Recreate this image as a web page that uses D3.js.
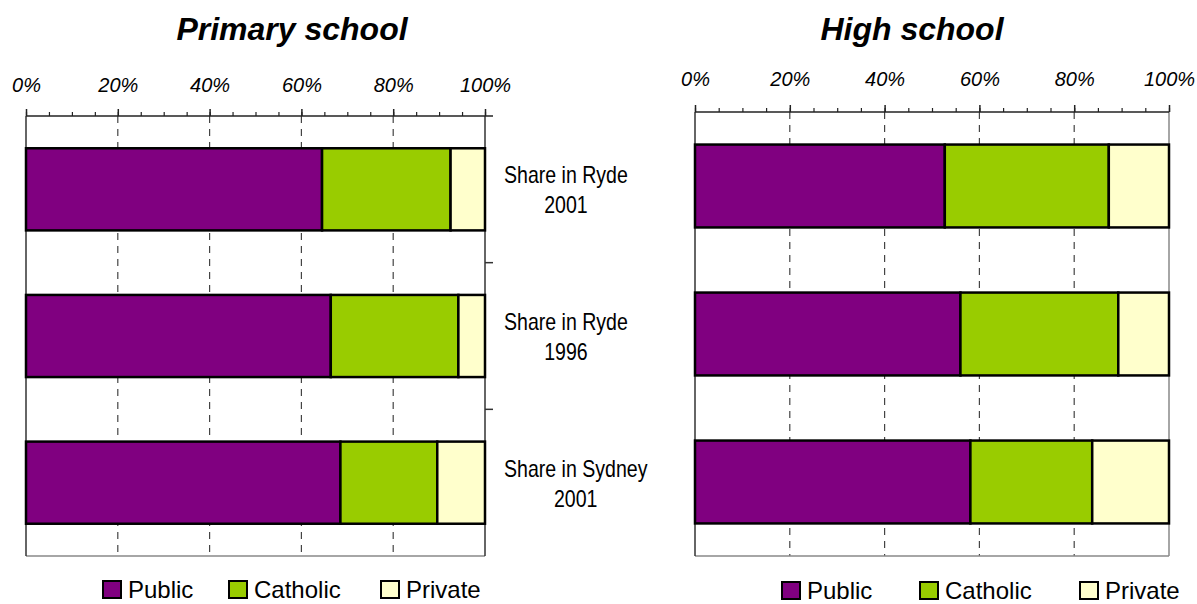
<!DOCTYPE html>
<html><head><meta charset="utf-8">
<script src="https://cdn.jsdelivr.net/npm/d3@7"></script>
<style>
body{margin:0;background:#fff;}
svg{display:block;}
</style></head>
<body><svg id="c" width="1197" height="604"></svg>
<script>
// ---- data ----
const categories = ["Share in Ryde|2001", "Share in Ryde|1996", "Share in Sydney|2001"];
const seriesNames = ["Public", "Catholic", "Private"];
const colors = ["#800080", "#99CC00", "#FFFFCC"];
const tickLabels = ["0%", "20%", "40%", "60%", "80%", "100%"];
const primaryPublic   = [64.5, 66.4, 68.5];
const primaryCatholic = [28.0, 27.8, 21.1];
const primaryPrivate  = [7.5, 5.8, 10.4];
const highPublic   = [52.7, 56.0, 58.1];
const highCatholic = [34.6, 33.3, 25.7];
const highPrivate  = [12.7, 10.7, 16.2];

const svg = d3.select("#c");

function panel(o) {
  const rows = categories.map((c, i) => ({cat: c, Public: o.pub[i], Catholic: o.cat[i], Private: o.pri[i]}));
  const stack = d3.stack().keys(seriesNames)(rows);
  const x = d3.scaleLinear().domain([0, 100]).range([o.x0, o.x1]);
  const p = 0.44;
  const y = d3.scaleBand().domain(categories).range([o.y0, o.y1]).paddingInner(p).paddingOuter(p / 2);
  const g = svg.append("g");

  // gridlines
  g.selectAll("line.grid").data([20, 40, 60, 80]).join("line")
    .attr("x1", d => x(d)).attr("x2", d => x(d))
    .attr("y1", o.y0).attr("y2", o.y1)
    .attr("stroke", "#444").attr("stroke-width", 1.2).attr("stroke-dasharray", "7,6");

  // frame
  g.append("line").attr("x1", o.x0).attr("x2", o.x1).attr("y1", o.y1).attr("y2", o.y1)
    .attr("stroke", "#888").attr("stroke-width", 1.5);
  g.append("line").attr("x1", o.x0).attr("x2", o.x0).attr("y1", o.y0).attr("y2", o.y1)
    .attr("stroke", "#333").attr("stroke-width", 1.5);
  g.append("line").attr("x1", o.x1).attr("x2", o.x1).attr("y1", o.y0).attr("y2", o.y1)
    .attr("stroke", o.rightAxis ? "#333" : "#888").attr("stroke-width", 1.5);

  // bars
  stack.forEach((s, si) => {
    g.selectAll(null).data(s).join("rect")
      .attr("x", d => x(d[0])).attr("width", d => x(d[1]) - x(d[0]))
      .attr("y", d => y(d.data.cat)).attr("height", y.bandwidth())
      .attr("fill", colors[si]).attr("stroke", "#000").attr("stroke-width", 2.5);
  });

  // top axis: minor ticks
  const minor = g.append("g").attr("transform", `translate(0,${o.y0})`)
    .call(d3.axisTop(x).tickValues(d3.range(0, 101, 5)).tickSize(4).tickFormat(""));
  minor.select(".domain").remove();
  minor.selectAll("line").attr("stroke", "#222").attr("stroke-width", 1.2);
  // major ticks with labels
  const major = g.append("g").attr("transform", `translate(0,${o.y0})`)
    .call(d3.axisTop(x).tickValues([0, 20, 40, 60, 80, 100]).tickSize(7).tickPadding(o.labPad)
      .tickFormat((d, i) => tickLabels[i]));
  major.select(".domain").attr("stroke", "#222").attr("stroke-width", 1.5)
    .attr("d", `M${o.x0},0H${o.x1 + (o.rightAxis ? 8 : 0)}`);
  major.selectAll("line").attr("stroke", "#222").attr("stroke-width", 1.5);
  major.selectAll("text").attr("font-family", "Liberation Sans, Arial, sans-serif")
    .attr("font-size", 20).attr("font-style", "italic").attr("fill", "#000");

  // title
  svg.append("text").attr("x", o.titleX).attr("y", 40).attr("text-anchor", "middle")
    .attr("font-family", "Liberation Sans, Arial, sans-serif").attr("font-size", 32)
    .attr("font-weight", "bold").attr("font-style", "italic").text(o.title);

  // right category axis and labels
  if (o.rightAxis) {
    const step = y.step();
    g.selectAll("line.ct").data(categories.slice(0, -1)).join("line")
      .attr("x1", o.x1).attr("x2", o.x1 + 8)
      .attr("y1", d => y(d) + y.bandwidth() + step * p / 2)
      .attr("y2", d => y(d) + y.bandwidth() + step * p / 2)
      .attr("stroke", "#333").attr("stroke-width", 1.5);
    const sx = 0.85;
    categories.forEach(c => {
      const lines = c.split("|");
      const cy = y(c) + y.bandwidth() / 2;
      const t = g.append("text").attr("text-anchor", "middle")
        .attr("font-family", "Liberation Sans, Arial, sans-serif")
        .attr("font-size", 23).attr("fill", "#000");
      lines.forEach((l, li) => t.append("tspan").attr("y", cy - 6 + li * 30).text(l));
      const w = d3.max(t.selectAll("tspan").nodes(), n => n.getComputedTextLength());
      const cx = o.x1 + 19 + w * sx / 2;
      t.attr("transform", `translate(${cx},0) scale(${sx},1)`);
      t.selectAll("tspan").attr("x", 0);
    });
  }

  // legend
  const lg = svg.append("g");
  seriesNames.forEach((s, i) => {
    lg.append("rect").attr("x", o.legX[i]).attr("y", o.legY - 17).attr("width", 18).attr("height", 17)
      .attr("fill", colors[i]).attr("stroke", "#000").attr("stroke-width", 2);
    lg.append("text").attr("x", o.legX[i] + 25).attr("y", o.legY)
      .attr("font-family", "Liberation Sans, Arial, sans-serif").attr("font-size", 24).text(s);
  });
}

panel({pub: primaryPublic, cat: primaryCatholic, pri: primaryPrivate,
  x0: 26, x1: 485, y0: 116, y1: 556, labPad: 17, title: "Primary school", titleX: 292,
  rightAxis: true, legX: [103, 229, 381], legY: 598});
panel({pub: highPublic, cat: highCatholic, pri: highPrivate,
  x0: 695, x1: 1169, y0: 112, y1: 556, labPad: 19, title: "High school", titleX: 912,
  rightAxis: false, legX: [782, 920, 1080], legY: 599});
</script></body></html>
